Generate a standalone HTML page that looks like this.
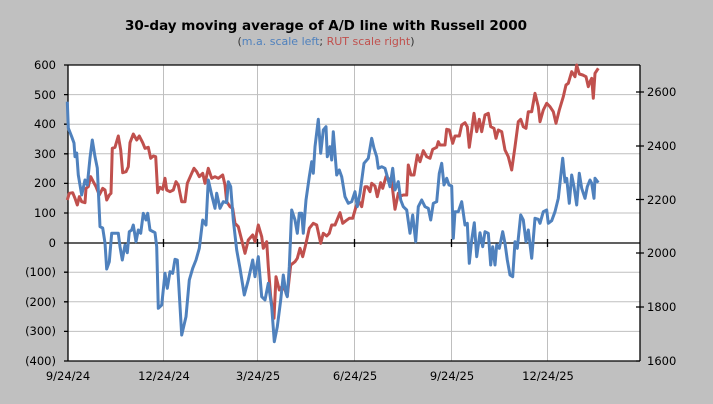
<!DOCTYPE html>
<html><head><meta charset="utf-8"><style>
html,body{margin:0;padding:0;background:#c0c0c0;}
svg{display:block;}
text{font-family:"DejaVu Sans","Liberation Sans",sans-serif;font-size:11.5px;fill:#000;}
</style></head><body>
<svg width="713" height="404" viewBox="0 0 713 404" xmlns="http://www.w3.org/2000/svg">
<rect x="0" y="0" width="713" height="404" fill="#c0c0c0"/>
<text x="326" y="30" text-anchor="middle" style="font-weight:bold;font-size:13.5px" textLength="402" lengthAdjust="spacingAndGlyphs">30-day moving average of A/D line with Russell 2000</text>
<text x="326" y="45" text-anchor="middle" style="font-size:11px"><tspan fill="#333">(</tspan><tspan fill="#4f81bd">m.a. scale left</tspan><tspan fill="#333">; </tspan><tspan fill="#c0504d">RUT scale right</tspan><tspan fill="#333">)</tspan></text>
<rect x="68" y="65" width="572" height="296" fill="#fff"/>
<g stroke="#bfbfbf" stroke-width="1">
<line x1="68" y1="94.6" x2="640" y2="94.6"/><line x1="68" y1="124.2" x2="640" y2="124.2"/><line x1="68" y1="153.8" x2="640" y2="153.8"/><line x1="68" y1="183.4" x2="640" y2="183.4"/><line x1="68" y1="213" x2="640" y2="213"/><line x1="68" y1="272.2" x2="640" y2="272.2"/><line x1="68" y1="301.8" x2="640" y2="301.8"/><line x1="68" y1="331.4" x2="640" y2="331.4"/>
<line x1="163.5" y1="65" x2="163.5" y2="361"/><line x1="257.5" y1="65" x2="257.5" y2="361"/><line x1="354.5" y1="65" x2="354.5" y2="361"/><line x1="451.5" y1="65" x2="451.5" y2="361"/><line x1="547.5" y1="65" x2="547.5" y2="361"/>
</g>
<g stroke="#000" stroke-width="1.3" fill="none">
<line x1="68" y1="65" x2="640" y2="65"/>
<line x1="68" y1="65" x2="68" y2="361"/>
<line x1="640" y1="65" x2="640" y2="361"/>
<line x1="68" y1="361" x2="640" y2="361"/>
<line x1="68" y1="243" x2="640" y2="243"/>
<path d="M64 65h4M64 94.6h4M64 124.2h4M64 153.8h4M64 183.4h4M64 213h4M64 243h4M64 272.2h4M64 301.8h4M64 331.4h4M64 361h4"/>
<path d="M636 92h8M636 146h8M636 199.5h8M636 253h8M636 307h8M636 361h4"/>
<path d="M163.5 239v8M257.5 239v8M354.5 239v8M451.5 239v8M547.5 239v8"/>
</g>
<g text-anchor="end">
<text x="56" y="69">600</text><text x="56" y="99">500</text><text x="56" y="128">400</text><text x="56" y="158">300</text><text x="56" y="187">200</text><text x="56" y="217">100</text><text x="56" y="247">0</text><text x="56" y="276">(100)</text><text x="56" y="306">(200)</text><text x="56" y="335">(300)</text><text x="56" y="365">(400)</text>
</g>
<g text-anchor="start">
<text x="647" y="96">2600</text><text x="647" y="150">2400</text><text x="647" y="204">2200</text><text x="647" y="257">2000</text><text x="647" y="311">1800</text><text x="647" y="365">1600</text>
</g>
<g text-anchor="middle">
<text x="68" y="380">9/24/24</text><text x="164" y="380">12/24/24</text><text x="258" y="380">3/24/25</text><text x="355" y="380">6/24/25</text><text x="452" y="380">9/24/25</text><text x="548" y="380">12/24/25</text>
</g>
<polyline fill="none" stroke="#c0504d" stroke-width="3" stroke-linejoin="round" points="67.3,200 69.3,193.3 72.7,192.7 75,198.3 77.3,205 79.3,196.7 81.7,201.7 85,202.7 86,188.3 88.3,186.7 90.7,176.7 93.3,181.7 96,186.7 99.3,195 102.7,188.3 105,190 106.7,200 109.3,195 111,193.3 112.3,148.3 115,147.3 118.3,136 120.7,150 122.7,172.7 126,171.7 128.3,166.7 130,142.7 133.3,134 136.7,140 139.3,136 142.7,142.7 145,148.3 148.3,147.3 150.7,158.3 153.3,156 155.7,156.7 157.7,192.7 160,187.3 162.7,189.3 165,178.3 166.7,190 170,191.7 173.3,190 176,181.7 178.3,185 181.7,201.7 185,201.7 187.3,183.3 191.7,173.3 194,168.3 196.7,171.7 199.3,176.7 202.7,173.3 205,183.3 208.3,168.3 211.7,178.3 215,176.7 218.3,178.3 222.7,175 225,185 226.7,201.7 230,206.7 232.7,208.3 235,223.3 238.3,226.7 241.7,240 245,253.3 248.3,240 252.7,235 255,241.7 258.3,225 261.7,236.7 263.3,248.3 266.7,241.7 268.3,266.7 270.7,296.7 274,318.3 276,276.7 279.3,290 281.7,286.7 285,290 287.3,296 290.7,265 295,261.7 297.3,258.3 300,248.3 302.7,256.7 306,243.3 309.3,228.3 313.3,223.3 316.7,225 320.7,243.3 323.3,233.3 326.7,236 329.3,233.3 331.7,225 335,225 340,212.7 342.7,223.3 346,220.7 349.3,218.3 352.7,218.3 356,206.7 358.3,200 361.7,206.7 365,186.7 367.3,186.7 370,191.7 371.7,183.3 375,186 377.3,196.7 380.7,182.7 382.7,188.3 386,176.7 388.3,178.3 391.7,181.7 395,209.3 398.3,193.3 400.7,196 403.3,195 406.7,195 408.3,165 411,175 414,175 417.3,155 420,161.7 423.3,150.7 426.7,156.7 430,158.3 432.7,149.3 436.7,147.3 438.3,141.7 440,145 445,145 446.7,129.3 449.3,130 452.7,143.3 455,136 459.3,136 461.7,125 465,122.7 467.3,126.7 469.3,147.3 471.7,130 474,113.3 476.7,131.7 479.3,119.3 481.7,131.7 485,115 488.3,113.3 490.7,126.7 494,128.3 496,138.3 498.3,130 501.7,131.7 505,150 508.3,156.7 511.7,170 515,146.7 518.3,121.7 520.7,119.3 523.3,126.7 526,128.3 528.3,111.7 531.7,111.7 535,93.3 538.3,106.7 540,121.7 543.3,110 546.7,103.3 550,106.7 553.3,111.7 556,123.3 559.3,110 563.3,96.7 566,85 568.3,83.3 571.7,71.7 575,76.7 576.7,65 579.3,74 582.7,75 586,76.7 588.3,86.7 590,81.7 591.7,78.3 593.3,98.3 595,73.3 598.3,68.3"/>
<polyline fill="none" stroke="#4f81bd" stroke-width="3" stroke-linejoin="round" points="67.3,101.7 68.3,128 71.7,136.7 74,143 75,156.7 76.7,153 78.3,175 81.7,195 85,180 87.3,185 90,158 92.3,140 95,156.7 97.3,168 100,226.7 102.7,228 105,243 106.7,269 109.3,261.7 111.7,233.3 115,233.3 118.3,233.3 120,246.7 122.3,260 125,245 127.3,252.7 129.3,231.7 131.7,230 133.3,225 136,241.7 138.3,230 140.7,233.3 143.3,213.3 146,220 147.7,213.3 150,230 155,232.7 156.7,246.7 158.3,308.3 161.7,305 165,273.3 167.3,288.3 170,271.7 172.7,273.3 175,259.3 177.3,260 181.7,335 186,316.7 189.3,280 192.7,268.3 196,260 199.3,248.3 202.7,220 206,225 208.3,180 211.7,195 215,208.3 216.7,193.3 220,208.3 223.3,201.7 226.7,202.7 228.3,181.7 230.7,186.7 233.3,220 236.7,250 240,268.3 244.3,295 248.3,280 252.7,260 255,276.7 258.3,256.7 261.7,296.7 265,300 268.3,283.3 271.7,306.7 274.3,341.7 277.3,326.7 280.7,300 283.3,275 286,293.3 287.3,296.7 289.3,266.7 291.7,210 295,220 297.3,233.3 299.3,213.3 301.7,213.3 303.3,233.3 306,200 309.3,176.7 311.7,161.7 313.3,173.3 315,146.7 318.3,119.3 320.7,153.3 323.3,130 326,126.7 327.3,156.7 330,146.7 331.7,160 333.3,131.7 336.7,175 339.3,170 341.7,176.7 345,196.7 348.3,203.3 351.7,201.7 355,191.7 357.3,206.7 360,193.3 364,163.3 368.3,158.3 371.7,138.3 374,148.3 376.7,156.7 378.3,168.3 381.7,166.7 385,168.3 387.3,176.7 390,186.7 392.7,168.3 395,190 398.3,181.7 400.7,200 403.3,206.7 406.7,210 410,233.3 412.7,215 415.7,241.7 418.3,206.7 421.7,200 425,206.7 428.3,208.3 430.7,220 433.3,203.3 436.7,201.7 439.3,173.3 441.7,163.3 444,185 446.7,178.3 449,185 451.7,186 453.3,238.3 455,211.7 458.3,211.7 461.7,201.7 465,225 467.3,223.3 469.3,263.3 471.7,240 474.3,222.7 476.7,256.7 480,232.7 482.7,246.7 485,231.7 488.3,233.3 490.7,265 492.7,246.7 495,265 496.7,245 499.3,248.3 502.7,231.7 505,243.3 507.3,260 510,275 512.7,276.7 515,241.7 517.3,248.3 520.7,215 523.3,220 526,241.7 528.3,230 531.7,258.3 535,218.3 538.3,219.3 540,223.3 543.3,211.7 546.7,210 548.3,223.3 551.7,220.7 555,211.7 558.3,198.3 562.7,158.3 565,181.7 566.7,178.3 569.3,203.3 571.7,175 574,186.7 576.7,205 579.3,173.3 581.7,188.3 585,198.3 587.3,186.7 590,180 591.7,183.3 594,198.3 595,178.3 598.3,182.7"/>
</svg>
</body></html>
